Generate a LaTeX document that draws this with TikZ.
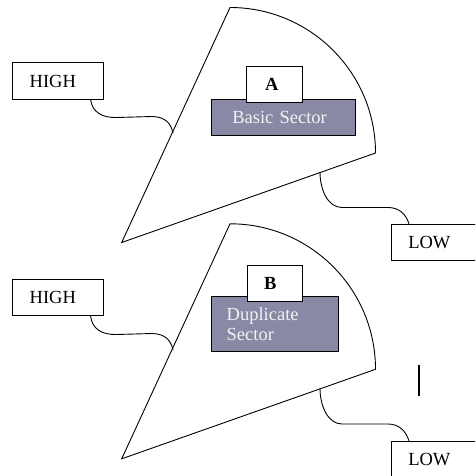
\documentclass[tikz,border=0pt]{standalone}
\usepackage{fontspec}
\setmainfont{Liberation Serif}
\definecolor{secgray}{RGB}{137,137,166}
\definecolor{sectext}{RGB}{242,242,242}
\begin{document}
\begin{tikzpicture}[x=1pt,y=-1pt,line width=0.9pt,
  tbox/.style={draw,fill=white,anchor=north west,align=left,outer sep=0pt,inner ysep=0pt,
    font=\fontsize{18.5}{20}\selectfont},
  gbox/.style={tbox,fill=secgray,text=sectext},
  lbox/.style={tbox,font=\fontsize{18.5}{20}\selectfont\bfseries},
  sector/.style={draw,line width=0.9pt},
  wire/.style={draw,line width=0.9pt}]
\clip (0,0) rectangle (475,476);
\fill[white] (0,0) rectangle (475,476);
% sectors
\draw[sector] (121.7,242.5) -- (230,7.5) arc[start angle=-90,end angle=0,radius=145.5] -- cycle;
\draw[sector] (121.7,458.8) -- (230,223.8) arc[start angle=-90,end angle=0,radius=145.5] -- cycle;
% gray sector boxes
\node[gbox,text width=102.1pt,inner xsep=21.3pt,minimum height=36.7pt] (secA) at (211,99) {Basic Sector};
\node[gbox,text width=95.9pt,inner xsep=15.7pt,minimum height=55pt] (secB) at (211,296.7) {Duplicate\\Sector};
% letter labels
\node[lbox,text width=19.4pt,inner xsep=18.3pt,minimum height=36pt] (labA) at (246.7,66.7) {A};
\node[lbox,text width=21.6pt,inner xsep=16.7pt,minimum height=36pt] (labB) at (247.3,265) {B};
% HIGH / LOW boxes
\node[tbox,text width=56.6pt,inner xsep=17pt,minimum height=36.6pt] (highA) at (12.7,62.7) {HIGH};
\node[tbox,text width=56.6pt,inner xsep=17pt,minimum height=36.6pt] (highB) at (12.7,279.3) {HIGH};
\node[tbox,text width=60pt,inner xsep=16.6pt,minimum height=36.7pt] (lowA) at (391.7,224) {LOW};
\node[tbox,text width=60pt,inner xsep=16.6pt,minimum height=36.7pt] (lowB) at (391.7,441) {LOW};
% connector end points on sector edges
\coordinate (hA) at (173,133);
\coordinate (lA) at (320,172);
\coordinate (hB) at (173,350);
\coordinate (lB) at (320,388.5);
% connectors
\draw[wire] ([xshift=-12.7pt]highA.south east) .. controls (92,112) and (102,118) .. (117,117.5)
  -- (152,116.5) .. controls (166,116.8) and (171,124) .. (hA);
\draw[wire] (lA) .. controls (320,190) and (328,207.5) .. (342,207.5)
  -- (388,207.5) .. controls (399,207.5) and (406,214) .. ([xshift=17.3pt]lowA.north west);
\draw[wire] ([xshift=-12.7pt]highB.south east) .. controls (92,329) and (102,335) .. (117,334.5)
  -- (152,333.5) .. controls (166,333.8) and (171,341) .. (hB);
\draw[wire] (lB) .. controls (320,406) and (328,424) .. (342,424)
  -- (388,424) .. controls (399,424) and (406,431) .. ([xshift=17.3pt]lowB.north west);
% vertical bar
\draw[line width=2.6pt] (419,364.5) -- (419,395.5);
\end{tikzpicture}
\end{document}
